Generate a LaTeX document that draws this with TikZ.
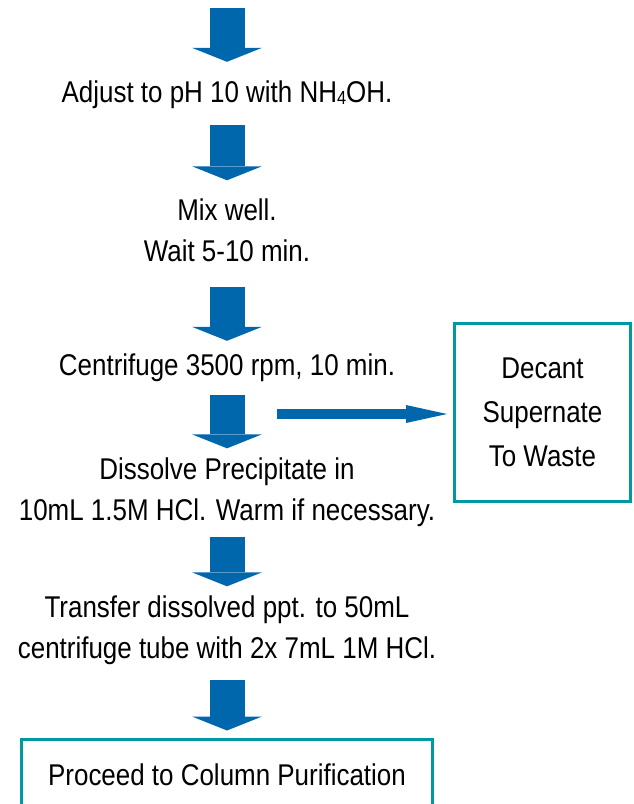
\documentclass[tikz,border=0pt]{standalone}
\usepackage{fontspec}
\setmainfont[FakeStretch=0.865]{Liberation Sans}
\usetikzlibrary{arrows.meta,positioning}
\definecolor{flujo}{RGB}{0,103,172}
\definecolor{borde}{RGB}{0,152,162}
\newcommand{\subind}[1]{\raisebox{-1.5pt}{\fontsize{19}{19}\selectfont #1}}
\tikzstyle{paso} = [inner sep=0pt, align=center, font=\fontsize{30}{41}\selectfont]
\tikzstyle{caja} = [paso, draw=borde, line width=3pt]
\tikzstyle{flecha} = [draw=flujo, line width=35pt, -{Triangle[length=14pt,width=70pt,line width=0pt]}]
\tikzstyle{lateral} = [draw=flujo, line width=10pt, -{Triangle[length=41pt,width=18pt,line width=0pt]}]

\begin{document}
\begin{tikzpicture}[x=1pt,y=-1pt]
\clip (0,0) rectangle (634,804);
\useasboundingbox (0,0) rectangle (634,804);
\node[paso] (ajuste) at (227,95) {Adjust to pH 10 with NH\subind{4}OH.};
\node[paso] (mezcla) at (227,230) {Mix well.\\Wait 5-10 min.};
\node[paso] (centrifuga) at (227,368) {Centrifuge 3500 rpm, 10 min.};
\node[paso] (disolver) at (227,492) {Dissolve Precipitate in\\10mL 1.5M HCl. Warm if necessary.};
\node[paso] (transferir) at (227,630) {Transfer dissolved ppt. to 50mL\\centrifuge tube with 2x 7mL 1M HCl.};
\node[caja, minimum width=411pt, minimum height=72pt] (columna) at (227,775) {Proceed to Column Purification};
\node[caja, minimum width=176pt, minimum height=178pt, font=\fontsize{30}{44}\selectfont] (decantar) at (542.5,412.5) {Decant\\Supernate\\To Waste};
\coordinate (inicio) at (227,8);
\coordinate (salida) at (277,414);
\draw[flecha] (inicio) -- ([yshift=19pt]ajuste.north);
\draw[flecha] ([yshift=-16pt]ajuste.south) -- ([yshift=18pt]mezcla.north);
\draw[flecha] ([yshift=-25pt]mezcla.south) -- ([yshift=13pt]centrifuga.north);
\draw[flecha] ([yshift=-13pt]centrifuga.south) -- ([yshift=9pt]disolver.north);
\draw[flecha] ([yshift=-10pt]disolver.south) -- ([yshift=9pt]transferir.north);
\draw[flecha] ([yshift=-15pt]transferir.south) -- ([yshift=7pt]columna.north);
\draw[lateral, shorten >=6pt] (salida) -- (salida -| decantar.west);
\end{tikzpicture}
\end{document}
